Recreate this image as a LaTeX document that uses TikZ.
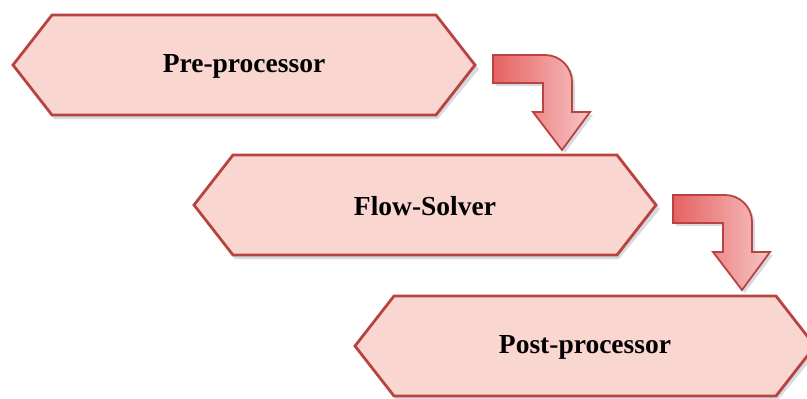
\documentclass[tikz,border=0pt]{standalone}
\usepackage{fontspec}
\setmainfont{Liberation Serif}
\begin{document}
\begin{tikzpicture}[x=1pt,y=-1pt,
  hexbox/.style={draw={rgb,255:red,184;green,68;blue,64},line width=2.8pt,line join=miter,fill={rgb,255:red,250;green,214;blue,208}},
  shadowbox/.style={fill={rgb,255:red,140;green,150;blue,175},opacity=0.35,draw=none},
  bentarrow/.style={draw={rgb,255:red,184;green,68;blue,64},line width=1.8pt,line join=miter,
     left color={rgb,255:red,230;green,98;blue,98},right color={rgb,255:red,247;green,196;blue,196}},
  lbl/.style={font=\bfseries\fontsize{27.5}{30}\selectfont,text=black}]
\useasboundingbox (0,0) rectangle (807,399);
\clip (0,0) rectangle (807,399);
\fill[white] (0,0) rectangle (807,399);

\tikzset{pics/hexa/.style={code={
  \fill[shadowbox] (-#1+3,4) -- (-#1+41,-46) -- (#1-37,-46) -- (#1+4,4) -- (#1-37,54) -- (-#1+41,54) -- cycle;
  \draw[hexbox] (-#1,0) -- (-#1+39,-50) -- (#1-39,-50) -- (#1,0) -- (#1-39,50) -- (-#1+39,50) -- cycle;
}}}

\pic at (244,65) {hexa=231};
\pic at (425,205) {hexa=231};
\pic at (585,346) {hexa=230};

\node[lbl] (pre) at (244,66) {Pre-processor};
\node[lbl] (flow) at (425,206) {Flow-Solver};
\node[lbl] (post) at (585,347) {Post-processor};

\tikzset{pics/bent/.style={code={
  \fill[shadowbox] (3,3) -- (55,3) .. controls (70,3) and (82,15) .. (82,30) -- (82,60) -- (100,60) -- (72,98) -- (43,60) -- (53,60) -- (53,31) -- (3,31) -- cycle;
  \draw[bentarrow] (0,0) -- (52,0) .. controls (67,0) and (79,12) .. (79,27) -- (79,57) -- (97,57) -- (69,95) -- (40,57) -- (50,57) -- (50,28) -- (0,28) -- cycle;
}}}
\pic at (493,55) {bent};
\pic at (673,195) {bent};
\end{tikzpicture}
\end{document}
